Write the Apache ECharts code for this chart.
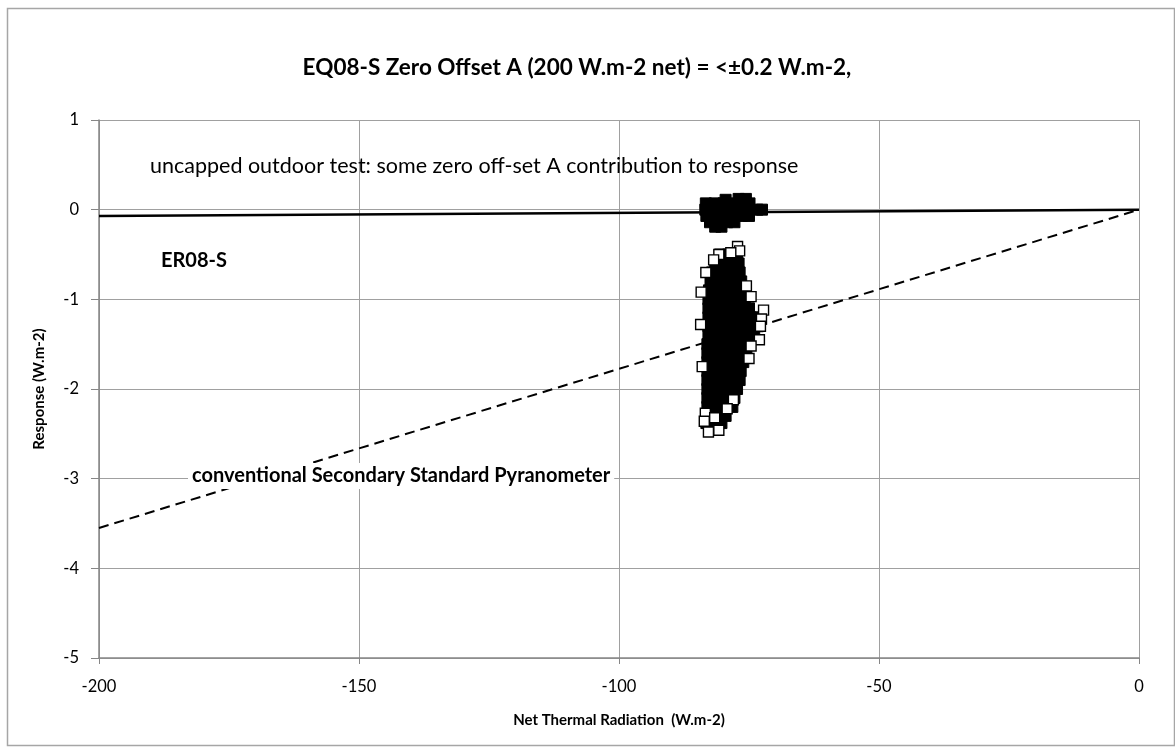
<!DOCTYPE html>
<html>
<head>
<meta charset="utf-8">
<script src="https://cdn.jsdelivr.net/npm/echarts@6/dist/echarts.min.js"></script>
<style>
html,body{margin:0;padding:0;background:#fff;}
#chart{width:1175px;height:749px;}
</style>
</head>
<body>
<div id="chart"></div>
<script>
// ---- data ----
var titleText = 'EQ08-S Zero Offset A (200 W.m-2 net) = <\u00b10.2 W.m-2,';
var xTicks = [-200, -150, -100, -50, 0];
var yTicks = [1, 0, -1, -2, -3, -4, -5];

// ER08-S fitted response line (solid)
var er08Line = [[-200, -0.07], [0, 0]];
// conventional secondary standard pyranometer line (dashed)
var conventionalLine = [[-200, -3.55], [0, 0]];

// uncapped test points, upper cluster (ER08-S, near zero)
var upperPoints = [
  [-77.0, 0.12], [-75.6, 0.12], [-79.5, 0.11],
  [-83.3, 0.07], [-81.6, 0.07], [-79.9, 0.07], [-78.2, 0.07], [-76.5, 0.07], [-74.9, 0.07],
  [-83.4, 0.00], [-81.7, 0.00], [-80.0, 0.00], [-78.3, 0.00], [-76.6, 0.00], [-74.9, 0.00], [-73.4, 0.00], [-72.5, 0.00],
  [-83.2, -0.07], [-81.5, -0.07], [-79.8, -0.07], [-78.1, -0.07], [-76.4, -0.07], [-75.0, -0.07],
  [-82.5, -0.14], [-80.8, -0.14], [-79.2, -0.14], [-77.8, -0.14],
  [-81.5, -0.19], [-80.3, -0.19]
];

// uncapped test points, lower cluster (conventional pyranometer) - dense core
var lowerCore = [
  [-80.6, -0.50], [-79.0, -0.50], [-77.3, -0.50],
  [-81.5, -0.60], [-79.9, -0.60], [-78.3, -0.60], [-77.0, -0.60],
  [-82.1, -0.70], [-80.5, -0.70], [-78.9, -0.70], [-77.3, -0.70], [-76.8, -0.70],
  [-82.4, -0.80], [-80.8, -0.80], [-79.2, -0.80], [-77.6, -0.80], [-76.5, -0.80],
  [-82.7, -0.90], [-81.1, -0.90], [-79.5, -0.90], [-77.9, -0.90], [-76.3, -0.90],
  [-82.8, -1.00], [-81.2, -1.00], [-79.6, -1.00], [-78.0, -1.00], [-76.4, -1.00], [-75.8, -1.00],
  [-82.8, -1.10], [-81.2, -1.10], [-79.6, -1.10], [-78.0, -1.10], [-76.4, -1.10], [-75.0, -1.10],
  [-82.8, -1.20], [-81.2, -1.20], [-79.6, -1.20], [-78.0, -1.20], [-76.4, -1.20], [-74.8, -1.20], [-73.5, -1.20],
  [-82.8, -1.30], [-81.2, -1.30], [-79.6, -1.30], [-78.0, -1.30], [-76.4, -1.30], [-74.8, -1.30], [-73.3, -1.30],
  [-82.8, -1.40], [-81.2, -1.40], [-79.6, -1.40], [-78.0, -1.40], [-76.4, -1.40], [-74.8, -1.40], [-74.0, -1.40],
  [-83.0, -1.50], [-81.4, -1.50], [-79.8, -1.50], [-78.2, -1.50], [-76.6, -1.50], [-75.2, -1.50],
  [-83.0, -1.60], [-81.4, -1.60], [-79.8, -1.60], [-78.2, -1.60], [-76.6, -1.60], [-75.5, -1.60],
  [-83.0, -1.70], [-81.4, -1.70], [-79.8, -1.70], [-78.2, -1.70], [-76.6, -1.70], [-76.1, -1.70],
  [-83.0, -1.80], [-81.4, -1.80], [-79.8, -1.80], [-78.2, -1.80], [-76.6, -1.80],
  [-83.0, -1.90], [-81.4, -1.90], [-79.8, -1.90], [-78.2, -1.90], [-76.8, -1.90],
  [-83.0, -2.00], [-81.4, -2.00], [-79.8, -2.00], [-78.2, -2.00], [-77.3, -2.00],
  [-83.0, -2.10], [-81.4, -2.10], [-79.8, -2.10], [-78.2, -2.10], [-77.8, -2.10],
  [-83.0, -2.20], [-81.4, -2.20], [-79.8, -2.20], [-78.2, -2.20],
  [-82.8, -2.30], [-81.2, -2.30], [-79.5, -2.30],
  [-83.2, -2.38], [-81.5, -2.38], [-80.3, -2.38]
];

// lower cluster - scattered outlying points (open squares)
var lowerEdge = [
  [-77.2, -0.41], [-76.8, -0.46], [-78.5, -0.48], [-80.8, -0.50], [-81.8, -0.56],
  [-83.3, -0.70], [-84.2, -0.92], [-84.3, -1.28], [-84.0, -1.75],
  [-75.5, -0.85], [-74.6, -0.97], [-72.2, -1.12], [-72.6, -1.22], [-72.8, -1.30], [-73.0, -1.45],
  [-74.6, -1.52], [-75.0, -1.66],
  [-78.0, -2.12], [-79.2, -2.22], [-83.4, -2.27], [-83.6, -2.36], [-81.6, -2.32],
  [-82.8, -2.48], [-80.8, -2.46]
];

var chart = echarts.init(document.getElementById('chart'), null, {renderer: 'canvas'});
var FONT = 'Lato, "Liberation Sans", sans-serif';

var option = {
  backgroundColor: '#ffffff',
  animation: false,
  title: {
    text: titleText,
    left: 572,
    textAlign: 'center',
    top: 51,
    textStyle: {fontFamily: FONT, fontSize: 22.5, fontWeight: 'bold', color: '#000'}
  },
  grid: {left: 99, right: 36, top: 120, bottom: 91, containLabel: false},
  xAxis: {
    type: 'value', min: -200, max: 0, interval: 50,
    name: 'Net Thermal Radiation  (W.m-2)', nameLocation: 'middle', nameGap: 55,
    nameTextStyle: {fontFamily: FONT, fontSize: 15, fontWeight: 'bold', color: '#000'},
    axisLine: {show: true, onZero: false, lineStyle: {color: '#868686', width: 1.5}},
    axisTick: {show: true, length: 6, lineStyle: {color: '#868686', width: 1}},
    axisLabel: {fontFamily: FONT, fontSize: 16.5, color: '#000', margin: 20,
      formatter: function (v) { return xTicks.indexOf(v) >= 0 ? String(v) : ''; }},
    splitLine: {show: true, lineStyle: {color: '#a0a0a0', width: 1}}
  },
  yAxis: {
    type: 'value', min: -5, max: 1, interval: 1,
    name: 'Response (W.m-2)', nameLocation: 'middle', nameGap: 52, nameRotate: 90,
    nameTextStyle: {fontFamily: FONT, fontSize: 15, fontWeight: 'bold', color: '#000'},
    axisLine: {show: true, onZero: false, lineStyle: {color: '#868686', width: 1.5}},
    axisTick: {show: true, length: 8, lineStyle: {color: '#868686', width: 1}},
    axisLabel: {fontFamily: FONT, fontSize: 16.5, color: '#000', margin: 20,
      formatter: function (v) { return yTicks.indexOf(v) >= 0 ? String(v) : ''; }},
    splitLine: {show: true, lineStyle: {color: '#a0a0a0', width: 1}}
  },
  series: [
    {
      name: 'conventional', type: 'line', data: conventionalLine, symbol: 'none',
      lineStyle: {color: '#000', width: 2, type: [10, 6]}, z: 2
    },
    {
      name: 'ER08-S', type: 'line', data: er08Line, symbol: 'none',
      lineStyle: {color: '#000', width: 2.5}, z: 2
    },
    {
      name: 'upper', type: 'scatter', data: upperPoints, symbol: 'rect', symbolSize: 11,
      itemStyle: {color: '#000', borderColor: '#000', borderWidth: 1, opacity: 1}, z: 3
    },
    {
      name: 'lowerCore', type: 'scatter', data: lowerCore, symbol: 'rect', symbolSize: 11,
      itemStyle: {color: '#000', borderColor: '#000', borderWidth: 1, opacity: 1}, z: 3
    },
    {
      name: 'lowerEdge', type: 'scatter', data: lowerEdge, symbol: 'rect', symbolSize: 10,
      itemStyle: {color: '#ffffff', borderColor: '#000', borderWidth: 1.4, opacity: 1}, z: 4
    }
  ],
  graphic: [
    {type: 'rect', left: 5, top: 6, shape: {width: 1167, height: 737},
      style: {fill: 'none', stroke: '#a6a6a6', lineWidth: 1.5}, silent: true, z: 0},
    {type: 'text', x: 150, y: 166, z: 100,
      style: {text: 'uncapped outdoor test: some zero off-set A contribution to response',
        fontFamily: FONT, fontSize: 21.5, fill: '#000', verticalAlign: 'middle'}},
    {type: 'text', x: 161, y: 261, z: 100,
      style: {text: 'ER08-S', fontFamily: FONT, fontSize: 20, fontWeight: 'bold', fill: '#000', verticalAlign: 'middle'}},
    {type: 'text', x: 188, y: 476, z: 100,
      style: {text: 'conventional Secondary Standard Pyranometer', fontFamily: FONT, fontSize: 20, fontWeight: 'bold', fill: '#000', verticalAlign: 'middle',
        backgroundColor: '#ffffff', padding: [3, 4, 3, 4]}}
  ]
};
chart.setOption(option);
</script>
</body>
</html>
